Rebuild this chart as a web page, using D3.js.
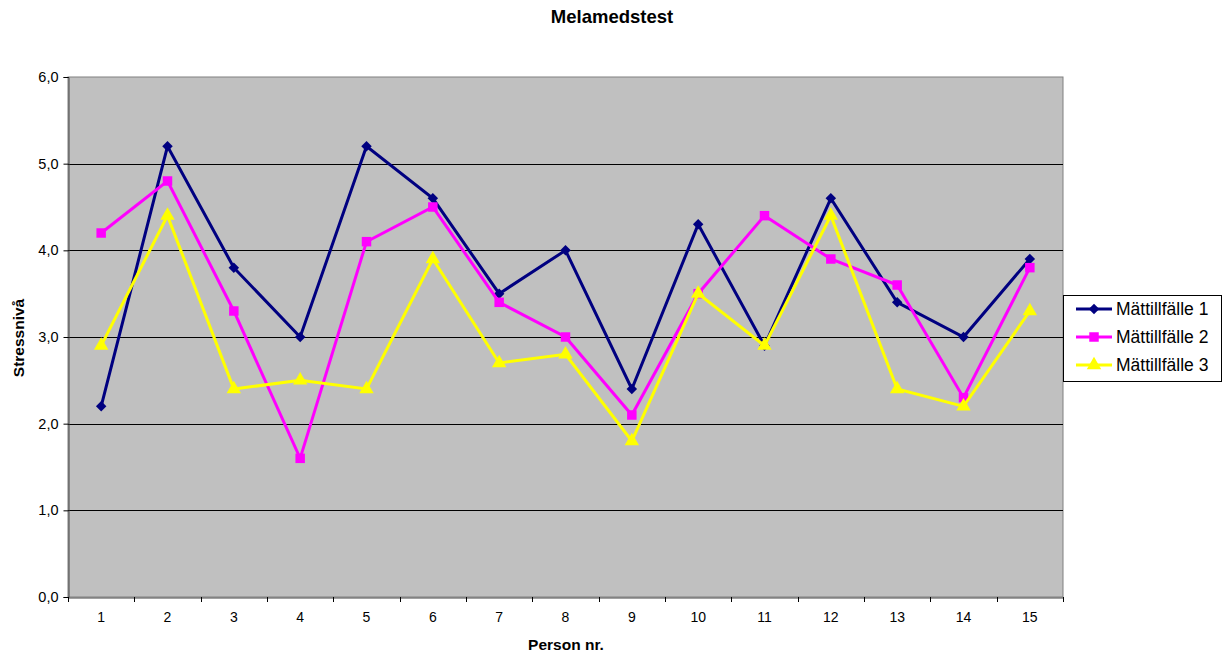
<!DOCTYPE html>
<html><head><meta charset="utf-8">
<script src="https://cdn.jsdelivr.net/npm/d3@7"></script>
<style>body{margin:0;background:#fff;font-family:"Liberation Sans",Arial,sans-serif}</style>
</head><body><svg id="c" width="1225" height="656"></svg>
<script>
const categories = ["1","2","3","4","5","6","7","8","9","10","11","12","13","14","15"];
const series1 = [2.2,5.2,3.8,3.0,5.2,4.6,3.5,4.0,2.4,4.3,2.9,4.6,3.4,3.0,3.9];
const series2 = [4.2,4.8,3.3,1.6,4.1,4.5,3.4,3.0,2.1,3.5,4.4,3.9,3.6,2.3,3.8];
const series3 = [2.9,4.4,2.4,2.5,2.4,3.9,2.7,2.8,1.8,3.5,2.9,4.4,2.4,2.2,3.3];
const seriesNames = ["Mättillfälle 1","Mättillfälle 2","Mättillfälle 3"];
const yTicks = [0,1,2,3,4,5,6];

const svg = d3.select("#c");
const L=68,R=1063,T=77,B=597;
const x = d3.scaleBand().domain(categories).range([L,R]);
const y = d3.scaleLinear().domain([0,6]).range([B,T]);

svg.append("rect").attr("x",L).attr("y",T).attr("width",R-L).attr("height",B-T).attr("fill","#c0c0c0").attr("stroke","#808080").attr("stroke-width",1);
svg.append("g").selectAll("line").data(yTicks.filter(d=>d>0&&d<6)).join("line")
 .attr("x1",L).attr("x2",R).attr("y1",d=>Math.round(y(d))+0.5).attr("y2",d=>Math.round(y(d))+0.5).attr("stroke","#000");

const fmt = d=>d3.format(".1f")(d).replace(".",",");
const ya = svg.append("g").attr("transform",`translate(${L+0.5},0)`).call(d3.axisLeft(y).tickValues(yTicks).tickFormat(fmt).tickSize(5).tickPadding(5));
ya.selectAll("text").attr("font-size","14.5px").attr("font-family","Liberation Sans, Arial").attr("fill","#000");
ya.select(".domain").attr("stroke","#444");
ya.selectAll(".tick line").attr("stroke","#000");

const xa = svg.append("g").attr("transform",`translate(0,${B+0.5})`).call(d3.axisBottom(x).tickSize(0).tickPadding(15));
xa.selectAll("text").attr("font-size","14px").attr("font-family","Liberation Sans, Arial").attr("fill","#000");
xa.select(".domain").attr("stroke","#444");
svg.append("g").selectAll("line").data(categories.concat(["end"])).join("line")
 .attr("x1",(d,i)=>Math.round(L+i*x.step())+0.5).attr("x2",(d,i)=>Math.round(L+i*x.step())+0.5)
 .attr("y1",B).attr("y2",B+5).attr("stroke","#000");

const colors=["#000080","#ff00ff","#ffff00"];
const shapes=[d3.symbolDiamond2, d3.symbolSquare, d3.symbolTriangle];
const sizes=[70,90,90];
const all=[series1,series2,series3];
const cx = d=>x(d)+x.bandwidth()/2;
const line = d3.line().x((d,i)=>cx(categories[i])).y(d=>y(d));
all.forEach((s,k)=>{
  svg.append("path").datum(s).attr("d",line).attr("fill","none").attr("stroke",colors[k]).attr("stroke-width",3);
  svg.append("g").selectAll("path").data(s).join("path")
   .attr("transform",(d,i)=>`translate(${cx(categories[i])},${y(d)})`)
   .attr("d",d3.symbol().type(shapes[k]).size(sizes[k])).attr("fill",colors[k]);
});

// legend
const lg = svg.append("g");
lg.append("rect").attr("x",1063.5).attr("y",295.5).attr("width",158).attr("height",86).attr("fill","#fff").attr("stroke","#000");
seriesNames.forEach((n,k)=>{
  const yy=309+k*28;
  lg.append("line").attr("x1",1076).attr("x2",1112).attr("y1",yy).attr("y2",yy).attr("stroke",colors[k]).attr("stroke-width",3);
  lg.append("path").attr("transform",`translate(1094,${yy})`).attr("d",d3.symbol().type(shapes[k]).size(sizes[k])).attr("fill",colors[k]);
  lg.append("text").attr("x",1116).attr("y",yy+6).attr("font-size","17.5px").text(n);
});

svg.append("text").attr("x",612).attr("y",23).attr("text-anchor","middle").attr("font-weight","bold").attr("font-size","18.5px").text("Melamedstest");
svg.append("text").attr("x",566).attr("y",650).attr("text-anchor","middle").attr("font-weight","bold").attr("font-size","15.5px").text("Person nr.");
svg.append("text").attr("transform","translate(24,338) rotate(-90)").attr("text-anchor","middle").attr("font-weight","bold").attr("font-size","15.5px").text("Stressnivå");
</script></body></html>
